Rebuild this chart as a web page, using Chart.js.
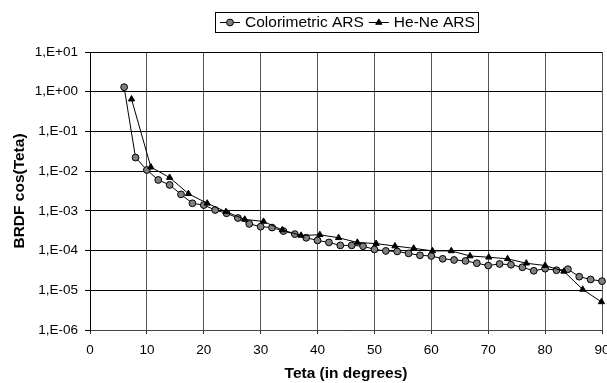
<!DOCTYPE html>
<html>
<head>
<meta charset="utf-8">
<script src="https://cdn.jsdelivr.net/npm/chart.js@4/dist/chart.umd.min.js"></script>
<style>
  html, body { margin: 0; padding: 0; background: #fff; }
  canvas { display: block; }
</style>
</head>
<body>
<canvas id="brdfChart" width="607" height="383"></canvas>
<script>
// Colorimetric ARS (circles)
const tetaColor = [6, 8, 10, 12, 14, 16, 18, 20, 22, 24, 26, 28, 30, 32, 34, 36, 38, 40, 42, 44, 46, 48,
                   50, 52, 54, 56, 58, 60, 62, 64, 66, 68, 70, 72, 74, 76, 78, 80, 82, 84, 86, 88, 90];
const brdfColor = [1.3, 0.022, 0.0107, 0.006, 0.0045, 0.0026, 0.00155, 0.0014, 0.00105, 0.00087, 0.00066,
                   0.00047, 0.0004, 0.00038, 0.00031, 0.00026, 0.00021, 0.00018, 0.00016, 0.000135, 0.000135,
                   0.000129, 0.000107, 0.000098, 0.000095, 0.000085, 0.000076, 0.000073, 0.000062, 0.000058,
                   0.000055, 0.000048, 0.000042, 0.000046, 0.000044, 0.000038, 0.000031, 0.000035, 0.000032,
                   0.000034, 0.000022, 0.0000187, 0.000017];

// He-Ne ARS (triangles)
const tetaHeNe = [7.3, 10.7, 14.0, 17.3, 20.6, 23.9, 27.2, 30.5, 33.8, 37.1, 40.4, 43.7, 47.0,
                  50.3, 53.6, 56.9, 60.2, 63.5, 66.8, 70.1, 73.4, 76.7, 80.0, 83.3, 86.6, 89.9];
const brdfHeNe = [0.65, 0.0126, 0.0069, 0.0027, 0.00155, 0.00095, 0.00061, 0.00054, 0.00033, 0.00024,
                  0.00025, 0.00021, 0.00016, 0.00015, 0.00013, 0.000114, 0.000098, 0.000098, 0.000073,
                  0.000068, 0.000062, 0.000048, 0.000042, 0.00003, 0.0000105, 0.0000051];

const yTicks = [1e-6, 1e-5, 1e-4, 1e-3, 1e-2, 1e-1, 1e0, 1e1];
const yTickLabels = ['1,E-06', '1,E-05', '1,E-04', '1,E-03', '1,E-02', '1,E-01', '1,E+00', '1,E+01'];

const FONT = '"Liberation Sans", Arial, sans-serif';

// Excel style legend: line + marker sample, framed box
const legendBox = {
    id: 'legendBox',
    afterDraw(chart) {
        const ctx = chart.ctx;
        const area = chart.chartArea;
        const sample = 20, gap = 5;
        ctx.save();
        ctx.font = '15.5px ' + FONT;
        const items = chart.data.datasets.map(ds => ({ ds: ds, w: ctx.measureText(ds.label).width }));
        let total = 0;
        items.forEach((it, i) => { total += sample + gap + it.w + (i ? gap : 0); });
        const boxW = Math.round(total + 8);
        const left = Math.round((area.left + area.right) / 2 - boxW / 2) + 0.5;
        const top = 12.5, h = 20, mid = top + h / 2;

        ctx.fillStyle = '#fff';
        ctx.fillRect(left, top, boxW, h);
        ctx.strokeStyle = '#000';
        ctx.lineWidth = 1;
        ctx.strokeRect(left, top, boxW, h);

        let x = left + 4.5;
        items.forEach(it => {
            const ds = it.ds;
            ctx.beginPath();
            ctx.moveTo(x, mid);
            ctx.lineTo(x + sample, mid);
            ctx.strokeStyle = ds.borderColor;
            ctx.stroke();

            const px = x + sample / 2, r = ds.pointRadius;
            ctx.beginPath();
            if (ds.pointStyle === 'triangle') {
                ctx.moveTo(px, mid - r);
                ctx.lineTo(px + r * Math.sin(Math.PI / 3), mid + r / 2);
                ctx.lineTo(px - r * Math.sin(Math.PI / 3), mid + r / 2);
                ctx.closePath();
            } else {
                ctx.arc(px, mid, r, 0, Math.PI * 2);
            }
            ctx.fillStyle = ds.pointBackgroundColor;
            ctx.fill();
            ctx.strokeStyle = ds.pointBorderColor;
            ctx.stroke();

            ctx.fillStyle = '#000';
            ctx.textBaseline = 'middle';
            ctx.textAlign = 'left';
            ctx.fillText(ds.label, x + sample + gap, mid + 0.5);
            x += sample + gap + it.w + gap;
        });
        ctx.restore();
    }
};

const whiteBg = {
    id: 'whiteBg',
    beforeDraw(chart) {
        const ctx = chart.ctx;
        ctx.save();
        ctx.fillStyle = '#fff';
        ctx.fillRect(0, 0, chart.width, chart.height);
        ctx.restore();
    }
};

const ctx = document.getElementById('brdfChart').getContext('2d');

new Chart(ctx, {
    type: 'scatter',
    data: {
        datasets: [{
            label: 'Colorimetric ARS',
            data: tetaColor.map((t, i) => ({ x: t, y: brdfColor[i] })),
            showLine: true,
            borderColor: '#000',
            borderWidth: 1,
            pointStyle: 'circle',
            pointRadius: 3.4,
            pointBackgroundColor: '#808080',
            pointBorderColor: '#000',
            pointBorderWidth: 1,
            clip: false,
            order: 1
        }, {
            label: 'He-Ne ARS',
            data: tetaHeNe.map((t, i) => ({ x: t, y: brdfHeNe[i] })),
            showLine: true,
            borderColor: '#000',
            borderWidth: 1,
            pointStyle: 'triangle',
            pointRadius: 3.6,
            pointBackgroundColor: '#000',
            pointBorderColor: '#000',
            pointBorderWidth: 1,
            clip: false,
            order: 0
        }]
    },
    options: {
        responsive: false,
        animation: false,
        events: [],
        layout: {
            padding: { top: 52, right: 2, bottom: 0, left: 0 }
        },
        scales: {
            x: {
                type: 'linear',
                min: 0,
                max: 90,
                ticks: {
                    stepSize: 10,
                    padding: 8,
                    color: '#000',
                    font: { family: FONT, size: 13.5 }
                },
                grid: { color: '#555', tickLength: 4, tickColor: '#333' },
                border: { color: '#444' },
                title: {
                    display: true,
                    text: 'Teta (in degrees)',
                    color: '#000',
                    font: { family: FONT, size: 15.5, weight: 'bold' },
                    padding: { top: 4, bottom: 0 }
                },
                afterFit(scale) {
                    scale.height = 53;
                    scale.paddingLeft = 0;
                    scale.paddingRight = 0;
                }
            },
            y: {
                type: 'logarithmic',
                min: 1e-6,
                max: 10,
                afterBuildTicks(scale) {
                    scale.ticks = yTicks.map(v => ({ value: v }));
                },
                ticks: {
                    padding: 7,
                    color: '#000',
                    font: { family: FONT, size: 13.5 },
                    callback: (value) => yTickLabels[yTicks.indexOf(value)]
                },
                grid: { color: '#000', tickLength: 5 },
                border: { color: '#000' },
                title: {
                    display: true,
                    text: 'BRDF cos(Teta)',
                    color: '#000',
                    font: { family: FONT, size: 15.5, weight: 'bold' },
                    padding: { top: 10, bottom: 0 }
                },
                afterFit(scale) {
                    scale.width = 90;
                }
            }
        },
        plugins: {
            legend: { display: false },
            tooltip: { enabled: false }
        }
    },
    plugins: [whiteBg, legendBox]
});
</script>
</body>
</html>
